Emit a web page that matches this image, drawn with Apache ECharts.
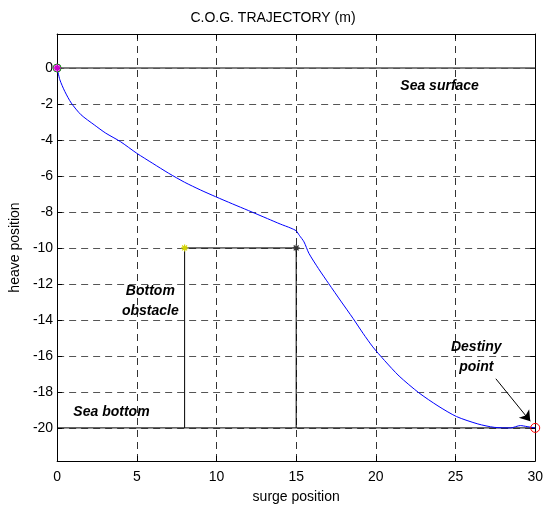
<!DOCTYPE html>
<html>
<head>
<meta charset="utf-8">
<script src="https://cdn.jsdelivr.net/npm/echarts@6/dist/echarts.min.js"></script>
<style>html,body{margin:0;padding:0;background:#fff;}#c{width:546px;height:509px;}</style>
</head>
<body>
<div id="c"></div>
<script>
const titleText = 'C.O.G. TRAJECTORY (m)';
const xName = 'surge position';
const yName = 'heave position';
const xTicks = [0, 5, 10, 15, 20, 25, 30];
const yTicks = [0, -2, -4, -6, -8, -10, -12, -14, -16, -18, -20];
const xRange = [0, 30];
const yRange = [-21.84, 1.89];

// trajectory of the centre of gravity
const trajX = [0, 0.17, 0.48, 0.89, 1.5, 2.33, 3.05, 3.97, 5, 6, 7, 8, 9, 9.94, 11, 12, 13.2, 14, 14.67, 15, 15.2, 15.49, 15.8, 16.4, 17.04, 17.8, 18.58, 19.2, 19.81, 20.54, 21.46, 22.7, 23.9, 25.06, 26.4, 27.43, 28.46, 29.07, 29.49, 30];
const trajY = [0, -0.65, -1.3, -1.95, -2.6, -3.16, -3.62, -4.09, -4.74, -5.3, -5.85, -6.35, -6.78, -7.15, -7.55, -7.92, -8.37, -8.67, -8.9, -9.05, -9.3, -9.66, -10.3, -11.15, -11.98, -12.95, -13.93, -14.75, -15.5, -16.25, -17.12, -18.05, -18.78, -19.37, -19.78, -19.97, -20.0, -19.87, -19.93, -20];

const surfaceX = [0, 30], surfaceY = [0, 0];
const bottomX = [0, 30], bottomY = [-20, -20];
const obstacleX = [8, 8, 15, 15], obstacleY = [-20, -10, -10, -20];
const startPoint = [0, 0];
const endPoint = [30, -20];
const obstacleStarYellow = [8, -10];
const obstacleStarDark = [15, -10];

const labelTexts = ['Sea surface', 'Bottom\nobstacle', 'Sea bottom', 'Destiny\npoint'];
const labelX = [24.0, 5.85, 3.41, 26.3];
const labelY = [-0.99, -12.95, -19.15, -16.07];
const arrowFrom = [27.53, -17.27];
const arrowTo = [29.69, -19.63];

const zip = (a, b) => a.map((v, i) => [v, b[i]]);
const FONT = 'Liberation Sans, Arial, sans-serif';
const star = 'path://M0,-5L0,5M-5,0L5,0M-3.5,-3.5L3.5,3.5M-3.5,3.5L3.5,-3.5';

const chart = echarts.init(document.getElementById('c'), null, {renderer: 'canvas'});

const baseX = {
  type: 'value', min: xRange[0], max: xRange[1],
  axisLine: {show: true, onZero: false, lineStyle: {color: '#000', width: 1}},
  axisTick: {show: true, inside: true, length: 5, customValues: xTicks, lineStyle: {color: '#000'}},
  splitLine: {show: false}
};
const baseY = {
  type: 'value', min: yRange[0], max: yRange[1],
  axisLine: {show: true, onZero: false, lineStyle: {color: '#000', width: 1}},
  axisTick: {show: true, inside: true, length: 5, customValues: yTicks, lineStyle: {color: '#000'}},
  splitLine: {show: false}
};

const option = {
  backgroundColor: '#fff',
  animation: false,
  title: {
    text: titleText, left: 'center', top: 6,
    textStyle: {fontFamily: FONT, fontSize: 14, fontWeight: 'normal', color: '#000'}
  },
  grid: {left: 52, right: 8, top: 34, bottom: 47, containLabel: false},
  xAxis: [
    Object.assign({}, baseX, {
      position: 'bottom',
      name: xName, nameLocation: 'middle', nameGap: 29,
      nameTextStyle: {fontFamily: FONT, fontSize: 14, color: '#000'},
      axisLabel: {show: true, customValues: xTicks, margin: 9, fontFamily: FONT, fontSize: 14, color: '#000'},
      splitLine: {show: true, lineStyle: {color: '#333', type: [7, 5], width: 1}}
    }),
    Object.assign({}, baseX, {position: 'top', axisLabel: {show: false}})
  ],
  yAxis: [
    Object.assign({}, baseY, {
      position: 'left',
      name: yName, nameLocation: 'middle', nameGap: 30,
      nameTextStyle: {fontFamily: FONT, fontSize: 14, color: '#000'},
      axisLabel: {show: true, customValues: yTicks, margin: 4, fontFamily: FONT, fontSize: 14, color: '#000'},
      splitLine: {show: true, lineStyle: {color: '#555', type: [7, 5], width: 1.2}}
    }),
    Object.assign({}, baseY, {position: 'right', axisLabel: {show: false}})
  ],
  series: [
    {type: 'line', data: zip(surfaceX, surfaceY), symbol: 'none', lineStyle: {color: '#555', width: 1.5}, z: 3},
    {type: 'line', data: zip(bottomX, bottomY), symbol: 'none', lineStyle: {color: '#000', width: 1}, z: 3},
    {type: 'line', data: zip(obstacleX, obstacleY), symbol: 'none', lineStyle: {color: '#000', width: 1}, z: 3},
    {type: 'line', data: zip(trajX, trajY), symbol: 'none', smooth: 0.25, lineStyle: {color: '#0000ff', width: 1}, z: 4,
      markLine: {
        silent: true, symbol: ['none', 'arrow'], symbolSize: 10,
        lineStyle: {color: '#000', width: 1, type: 'solid'}, label: {show: false},
        emphasis: {disabled: true},
        data: [[{coord: arrowFrom}, {coord: arrowTo}]]
      }
    },
    {type: 'scatter', data: [startPoint], symbol: 'circle', symbolSize: 8, z: 5,
      itemStyle: {opacity: 1, color: 'rgba(0,0,0,0)', borderColor: '#00a000', borderWidth: 1}},
    {type: 'scatter', data: [startPoint], symbol: star, symbolSize: 8, z: 6,
      itemStyle: {opacity: 1, color: 'rgba(0,0,0,0)', borderColor: '#cc00cc', borderWidth: 1.5}},
    {type: 'scatter', data: [obstacleStarYellow], symbol: star, symbolSize: 7, z: 6,
      itemStyle: {opacity: 1, color: 'rgba(0,0,0,0)', borderColor: '#d4d400', borderWidth: 1.2}},
    {type: 'scatter', data: [obstacleStarDark], symbol: star, symbolSize: 7, z: 6,
      itemStyle: {opacity: 1, color: 'rgba(0,0,0,0)', borderColor: '#333', borderWidth: 1.2}},
    {type: 'scatter', data: [endPoint], symbol: 'circle', symbolSize: 9, z: 6,
      itemStyle: {opacity: 1, color: 'rgba(0,0,0,0)', borderColor: '#ff0000', borderWidth: 1}},
    {type: 'scatter', data: labelTexts.map((t, i) => ({value: [labelX[i], labelY[i]], name: t})),
      symbolSize: 0, z: 7, silent: true, itemStyle: {opacity: 1},
      label: {show: true, position: 'inside', formatter: p => p.name,
        fontFamily: FONT, fontSize: 14, fontWeight: 'bold', fontStyle: 'italic', color: '#000',
        lineHeight: 20, align: 'center'}}
  ]
};
chart.setOption(option);
</script>
</body>
</html>
